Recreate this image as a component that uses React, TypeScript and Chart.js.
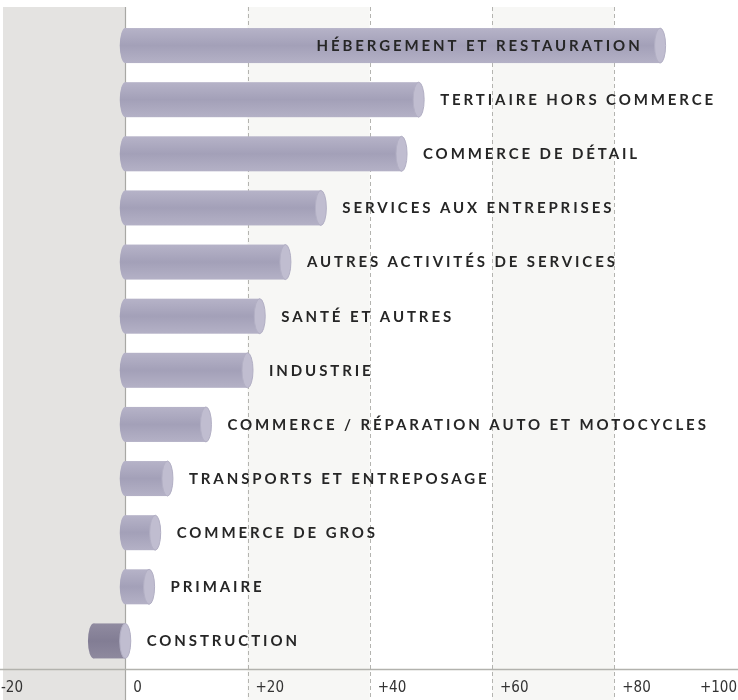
import React, { useEffect, useRef } from "react";
import { Chart, registerables } from "chart.js";

Chart.register(...registerables);

const categories = [
  "HÉBERGEMENT ET RESTAURATION",
  "TERTIAIRE HORS COMMERCE",
  "COMMERCE DE DÉTAIL",
  "SERVICES AUX ENTREPRISES",
  "AUTRES ACTIVITÉS DE SERVICES",
  "SANTÉ ET AUTRES",
  "INDUSTRIE",
  "COMMERCE / RÉPARATION AUTO ET MOTOCYCLES",
  "TRANSPORTS ET ENTREPOSAGE",
  "COMMERCE DE GROS",
  "PRIMAIRE",
  "CONSTRUCTION",
];

const values = [87.5, 48, 45.2, 32, 26.2, 22, 20, 13.2, 6.9, 4.9, 3.9, -5.2];

const xTicks = [-20, 0, 20, 40, 60, 80, 100];

const W = 738;
const H = 700;

const decorPlugin = {
  id: "decor",
  beforeDraw(chart: any) {
    const ctx = chart.ctx as CanvasRenderingContext2D;
    const xs = chart.scales.x;
    const top = 7;
    const bottom = H;
    const p = (v: number) => xs.getPixelForValue(v);
    ctx.save();
    ctx.fillStyle = "#ffffff";
    ctx.fillRect(0, 0, W, H);
    ctx.fillStyle = "#e4e3e1";
    ctx.fillRect(p(-20), top, p(0) - p(-20), bottom - top);
    ctx.fillStyle = "#f7f7f5";
    ctx.fillRect(p(20), top, p(40) - p(20), bottom - top);
    ctx.fillRect(p(60), top, p(80) - p(60), bottom - top);
    xTicks.forEach((t) => {
      if (t === -20 || t === 100) return;
      const x = Math.round(p(t)) + 0.5;
      ctx.beginPath();
      if (t === 0) {
        ctx.setLineDash([]);
        ctx.strokeStyle = "#a8a8a4";
        ctx.lineWidth = 1.2;
      } else {
        ctx.setLineDash([4, 3]);
        ctx.strokeStyle = "#b4b4b0";
        ctx.lineWidth = 1;
      }
      ctx.moveTo(x, top);
      ctx.lineTo(x, bottom);
      ctx.stroke();
    });
    ctx.restore();
  },
  afterDatasetsDraw(chart: any) {
    const ctx = chart.ctx as CanvasRenderingContext2D;
    const meta = chart.getDatasetMeta(0);
    const rx = 5.5;
    ctx.save();
    meta.data.forEach((el: any, i: number) => {
      const { x, y, base, height } = el.getProps(["x", "y", "base", "height"], true);
      const neg = values[i] < 0;
      const left = Math.min(x, base);
      const right = Math.max(x, base);
      const ry = height / 2;
      const t = y - ry;
      const g = ctx.createLinearGradient(0, t, 0, t + height);
      if (neg) {
        g.addColorStop(0, "#908ba0");
        g.addColorStop(0.5, "#827d94");
        g.addColorStop(1, "#8e899e");
      } else {
        g.addColorStop(0, "#b6b3c8");
        g.addColorStop(0.5, "#a3a0b8");
        g.addColorStop(1, "#b4b1c6");
      }
      ctx.fillStyle = g;
      ctx.beginPath();
      ctx.ellipse(left, y, rx, ry, 0, 0, Math.PI * 2);
      ctx.fill();
      ctx.fillRect(left, t, right - left, height);
      ctx.beginPath();
      ctx.ellipse(right, y, rx, ry, 0, 0, Math.PI * 2);
      ctx.fillStyle = "#c0bdd0";
      ctx.fill();
      ctx.strokeStyle = "#b2afc4";
      ctx.lineWidth = 1;
      ctx.stroke();

      const label = categories[i];
      ctx.font = "bold 15px Lato, 'Open Sans', sans-serif";
      (ctx as any).letterSpacing = "2.9px";
      ctx.fillStyle = "#262626";
      ctx.textBaseline = "middle";
      const w = ctx.measureText(label).width;
      const startX = right + rx + 16;
      if (startX + w > W - 4) {
        ctx.textAlign = "right";
        ctx.fillText(label, right - rx - 12, y + 0.5);
      } else {
        ctx.textAlign = "left";
        ctx.fillText(label, startX, y + 0.5);
      }
    });
    ctx.restore();
  },
  afterDraw(chart: any) {
    const ctx = chart.ctx as CanvasRenderingContext2D;
    const xs = chart.scales.x;
    const axisY = chart.chartArea.bottom + 1.5;
    ctx.save();
    ctx.strokeStyle = "#b2b2ad";
    ctx.lineWidth = 1.5;
    ctx.setLineDash([]);
    ctx.beginPath();
    ctx.moveTo(0, axisY);
    ctx.lineTo(W, axisY);
    ctx.stroke();

    ctx.font = "15px 'DejaVu Sans Condensed', 'Liberation Sans Narrow', sans-serif";
    try {
      (ctx as any).fontStretch = "condensed";
    } catch (e) {}
    ctx.fillStyle = "#333333";
    ctx.textBaseline = "middle";
    xTicks.forEach((t, i) => {
      const px = xs.getPixelForValue(t);
      const txt = t > 0 ? "+" + t : String(t);
      const w = ctx.measureText(txt).width;
      let lx = i === 0 ? px - 2 : px + 8;
      if (lx + w > W) lx = W - w - 1;
      ctx.textAlign = "left";
      ctx.fillText(txt, lx, 688);
    });
    ctx.restore();
  },
};

export default function App() {
  const ref = useRef<HTMLCanvasElement | null>(null);
  useEffect(() => {
    document.body.style.margin = "0";
    const canvas = ref.current;
    if (!canvas) return;
    const chart = new Chart(canvas, {
      type: "bar",
      data: {
        labels: categories,
        datasets: [
          {
            data: values,
            backgroundColor: "rgba(0,0,0,0)",
            borderWidth: 0,
            categoryPercentage: 0.647,
            barPercentage: 1,
          },
        ],
      },
      options: {
        indexAxis: "y",
        responsive: false,
        animation: false,
        layout: { padding: { left: 3, right: 1.5, top: 18.5, bottom: 32 } },
        plugins: { legend: { display: false }, tooltip: { enabled: false } },
        scales: {
          x: { display: false, min: -20, max: 100, ticks: { stepSize: 20 } },
          y: { display: false },
        },
      },
      plugins: [decorPlugin],
    });
    return () => chart.destroy();
  }, []);
  return (
    <div style={{ width: W, height: H }}>
      <canvas ref={ref} width={W} height={H} style={{ width: W, height: H, display: "block" }} />
    </div>
  );
}
